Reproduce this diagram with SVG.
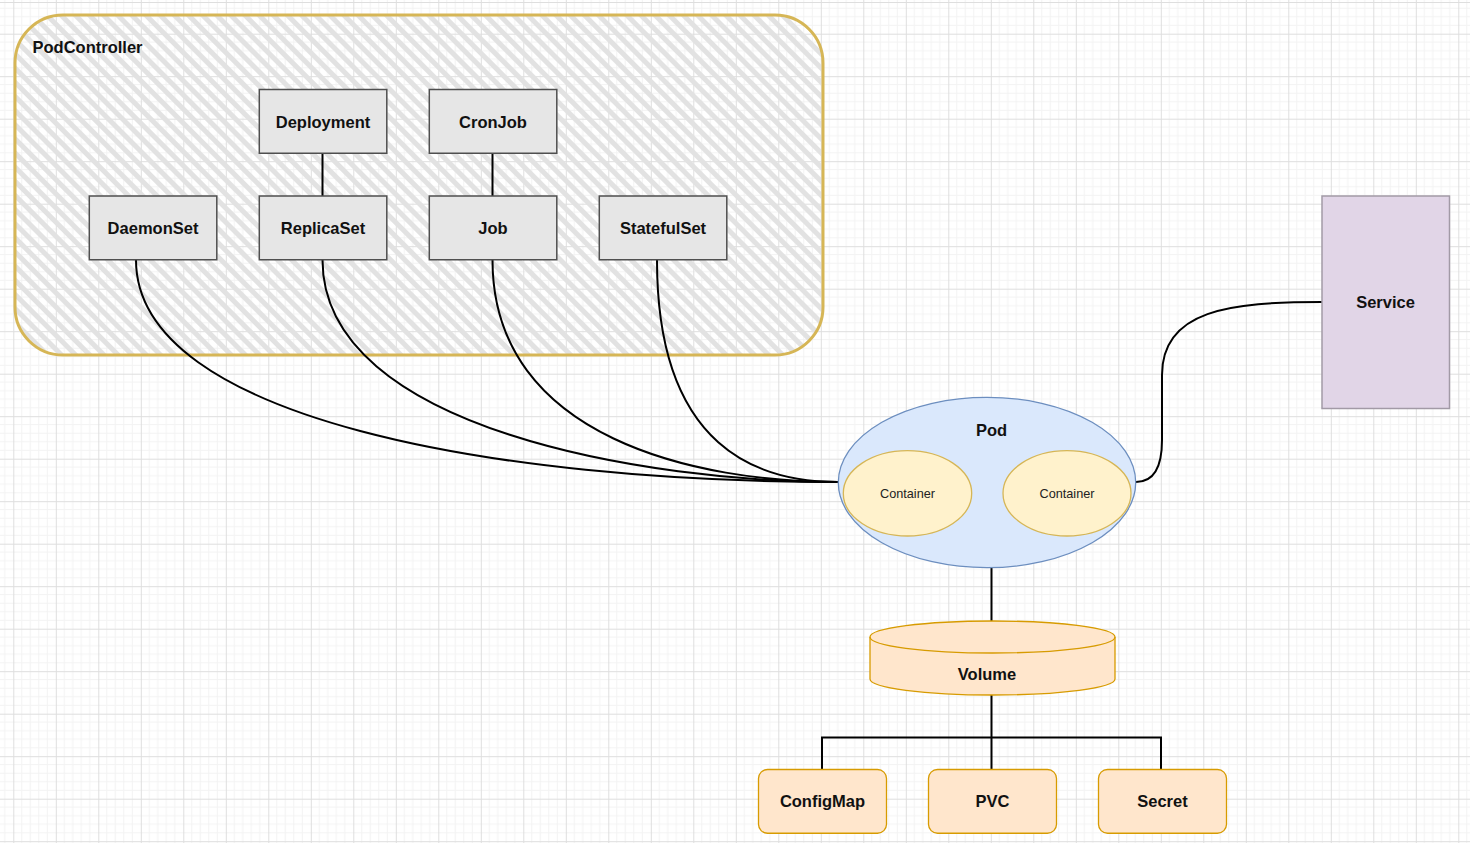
<svg xmlns="http://www.w3.org/2000/svg" width="1470" height="843" viewBox="0 0 1470 843">
  <defs>
    <pattern id="grid" x="13.3" y="33.7" width="42.5" height="42.5" patternUnits="userSpaceOnUse">
      <path d="M8.5 0V42.5M17 0V42.5M25.5 0V42.5M34 0V42.5M0 8.5H42.5M0 17H42.5M0 25.5H42.5M0 34H42.5" stroke="#f3f3f3" stroke-width="1" fill="none"/>
      <path d="M0.5 0V42.5M0 0.5H42.5" stroke="#dedede" stroke-width="1" fill="none"/>
    </pattern>
    <pattern id="hatch" width="10" height="10" patternUnits="userSpaceOnUse" patternTransform="rotate(-45)">
      <rect x="0" y="0" width="5" height="10" fill="#e2e2e2"/>
    </pattern>
    <style>
      .lbl { font-family: "Liberation Sans", Arial, sans-serif; font-size: 16.5px; font-weight: bold; fill: #111; text-anchor: middle; }
      .small { font-family: "Liberation Sans", Arial, sans-serif; font-size: 12.7px; fill: #222; text-anchor: middle; }
      .ctrl { fill: #e6e6e6; stroke: #4f4f4f; stroke-width: 1.5; }
      .orange { fill: #ffe6cc; stroke: #d79b00; stroke-width: 1.3; }
      .cont { fill: #fff2cc; stroke: #d6b656; stroke-width: 1.3; }
      .edge { fill: none; stroke: #000; stroke-width: 2; }
    </style>
  </defs>

  <rect width="1470" height="843" fill="#ffffff"/>
  <rect width="1470" height="843" fill="url(#grid)"/>
  <line x1="0" y1="2.5" x2="1470" y2="2.5" stroke="#dedede" stroke-width="1"/>

  <g id="PodController">
    <rect x="15" y="15" width="808" height="340" rx="48" fill="url(#hatch)"/>
    <rect x="15" y="15" width="808" height="340" rx="48" fill="none" stroke="#d6b656" stroke-width="3"/>
    <text x="32.5" y="53" class="lbl" style="text-anchor:start">PodController</text>
  </g>

  <g id="connectors">
    <path class="edge" d="M322.5 153.5V196"/>
    <path class="edge" d="M492.5 153.5V196"/>
    <path class="edge" d="M136 260C136 420 500 482 838 482"/>
    <path class="edge" d="M322.5 260C322.5 430 650 482 838 482"/>
    <path class="edge" d="M492.5 260C492.5 440 700 482 838 482"/>
    <path class="edge" d="M657 260C657 450 760 482 838 482"/>
    <path class="edge" d="M1322 302C1230 302 1162 310 1162 375L1162 440C1162 470 1152 482 1136 482"/>
    <path class="edge" d="M991.5 568V622"/>
    <path class="edge" d="M991.5 695V737.5M822 770V737.5H1161V770M991.5 737.5V770"/>
  </g>

  <g id="Deployment">
    <rect class="ctrl" x="259.3" y="89.5" width="127.5" height="63.75"/>
    <text class="lbl" x="323" y="127.5">Deployment</text>
  </g>
  <g id="CronJob">
    <rect class="ctrl" x="429.3" y="89.5" width="127.5" height="63.75"/>
    <text class="lbl" x="493" y="127.5">CronJob</text>
  </g>
  <g id="DaemonSet">
    <rect class="ctrl" x="89.3" y="196" width="127.5" height="63.75"/>
    <text class="lbl" x="153" y="234">DaemonSet</text>
  </g>
  <g id="ReplicaSet">
    <rect class="ctrl" x="259.3" y="196" width="127.5" height="63.75"/>
    <text class="lbl" x="323" y="234">ReplicaSet</text>
  </g>
  <g id="Job">
    <rect class="ctrl" x="429.3" y="196" width="127.5" height="63.75"/>
    <text class="lbl" x="493" y="234">Job</text>
  </g>
  <g id="StatefulSet">
    <rect class="ctrl" x="599.3" y="196" width="127.5" height="63.75"/>
    <text class="lbl" x="663" y="234">StatefulSet</text>
  </g>

  <g id="Service">
    <rect x="1322" y="196" width="127.5" height="212.5" fill="#e1d5e7" stroke="#a29aa6" stroke-width="1.5"/>
    <text class="lbl" x="1385.5" y="308">Service</text>
  </g>

  <g id="Pod">
    <ellipse cx="987" cy="482.5" rx="148.7" ry="85.2" fill="#dae8fc" stroke="#6c8ebf" stroke-width="1.3"/>
    <text class="lbl" x="991.5" y="436">Pod</text>
  </g>
  <g id="Container1">
    <ellipse class="cont" cx="907.5" cy="493.3" rx="64.2" ry="42.7"/>
    <text class="small" x="907.5" y="498">Container</text>
  </g>
  <g id="Container2">
    <ellipse class="cont" cx="1067" cy="493.3" rx="64" ry="42.7"/>
    <text class="small" x="1067" y="498">Container</text>
  </g>

  <g id="Volume">
    <path class="orange" d="M870 637A122.5 16 0 0 1 1115 637V679A122.5 16 0 0 1 870 679Z"/>
    <path d="M870 637A122.5 16 0 0 0 1115 637" fill="none" stroke="#d79b00" stroke-width="1.3"/>
    <text class="lbl" x="987" y="680">Volume</text>
  </g>

  <g id="ConfigMap">
    <rect class="orange" x="758.5" y="769.5" width="128" height="63.75" rx="9"/>
    <text class="lbl" x="822.5" y="807">ConfigMap</text>
  </g>
  <g id="PVC">
    <rect class="orange" x="928.5" y="769.5" width="128" height="63.75" rx="9"/>
    <text class="lbl" x="992.5" y="807">PVC</text>
  </g>
  <g id="Secret">
    <rect class="orange" x="1098.5" y="769.5" width="128" height="63.75" rx="9"/>
    <text class="lbl" x="1162.5" y="807">Secret</text>
  </g>
</svg>
